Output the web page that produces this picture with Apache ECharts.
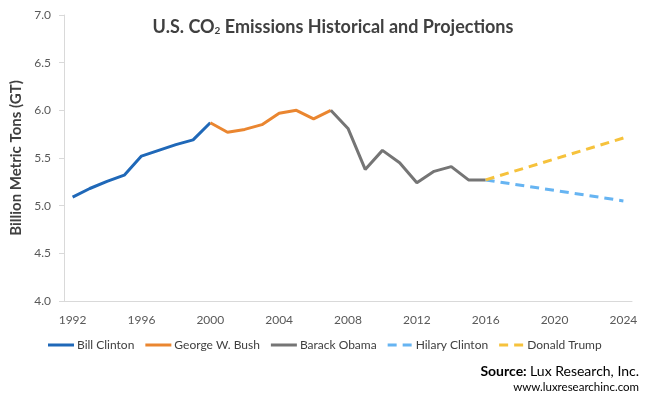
<!DOCTYPE html>
<html>
<head>
<meta charset="utf-8">
<script src="https://cdn.jsdelivr.net/npm/echarts@6/dist/echarts.min.js"></script>
<style>html,body{margin:0;padding:0;background:#fff}#c{width:648px;height:402px}</style>
</head>
<body>
<div id="c"></div>
<script>
var years = [];
for (var y = 1992; y <= 2024; y++) years.push(String(y));

var clintonStart = 1992, clintonValues = [5.09, 5.18, 5.255, 5.32, 5.52, 5.58, 5.64, 5.69, 5.87];
var bushStart = 2000, bushValues = [5.87, 5.77, 5.80, 5.85, 5.97, 6.00, 5.91, 6.00];
var obamaStart = 2007, obamaValues = [6.00, 5.81, 5.38, 5.58, 5.45, 5.24, 5.36, 5.41, 5.27, 5.27];
var hilaryPoints = [[2016, 5.27], [2024, 5.05]];
var trumpPoints = [[2016, 5.27], [2024, 5.71]];
var yTicks = [4.0, 4.5, 5.0, 5.5, 6.0, 6.5, 7.0];
var legendNames = ['Bill Clinton', 'George W. Bush', 'Barack Obama', 'Hilary Clinton', 'Donald Trump'];

function pad(start, vals) {
  var out = years.map(function () { return null; });
  vals.forEach(function (v, i) { out[start - 1992 + i] = v; });
  return out;
}
function padPts(pts) {
  var out = years.map(function () { return null; });
  pts.forEach(function (p) { out[p[0] - 1992] = p[1]; });
  return out;
}

var FONT = 'Lato';
var SOLID_ICON = 'path://M0,0h26v3h-26z';
var DASH_ICON = 'path://M0,0h9v3h-9zM15,0h9v3h-9z';
var chart = echarts.init(document.getElementById('c'), null, {renderer: 'canvas'});
function line(name, data, color, dashed) {
  return {
    name: name, type: 'line', data: data, symbol: 'none', connectNulls: true,
    lineStyle: {color: color, width: 3, type: dashed ? [9, 6] : 'solid', cap: 'butt'},
    itemStyle: {color: color}, z: dashed ? 3 : 2, silent: true
  };
}
chart.setOption({
  animation: false,
  textStyle: {fontFamily: FONT},
  title: {
    text: '{a|U.S. CO}{s|2}{a| Emissions Historical and Projections}',
    left: 328, top: 13, textAlign: 'center',
    textStyle: {
      rich: {
        a: {fontFamily: FONT, fontSize: 18, fontWeight: 'bold', color: '#404040'},
        s: {fontFamily: FONT, fontSize: 10, fontWeight: 'bold', color: '#404040', verticalAlign: 'bottom', padding: [8, 0, 0, 0]}
      }
    }
  },
  grid: {left: 64, right: 16, top: 15, bottom: 101, containLabel: false},
  legend: {
    left: 43, top: 334, width: 605, itemWidth: 26, itemHeight: 3, itemGap: 11,
    textStyle: {fontFamily: FONT, fontSize: 12, color: '#404040', padding: [0, 0, 0, -2]},
    data: legendNames.map(function (n, i) {
      return {name: n, icon: i < 3 ? SOLID_ICON : DASH_ICON};
    })
  },
  xAxis: {
    type: 'category', data: years, boundaryGap: true,
    axisLine: {lineStyle: {color: '#d9d9d9', width: 1}},
    axisTick: {show: false},
    axisLabel: {interval: 3, color: '#595959', fontSize: 12, fontFamily: FONT, margin: 13}
  },
  yAxis: {
    type: 'value', min: yTicks[0], max: yTicks[yTicks.length - 1], interval: 0.5,
    name: 'Billion Metric Tons (GT)', nameLocation: 'middle', nameGap: 35, nameRotate: 90,
    nameTextStyle: {fontFamily: FONT, fontSize: 15, fontWeight: 'bold', color: '#404040'},
    axisLine: {show: true, lineStyle: {color: '#d9d9d9'}},
    axisTick: {show: true, length: 5, lineStyle: {color: '#d9d9d9'}},
    splitLine: {show: false},
    axisLabel: {color: '#595959', fontSize: 12, fontFamily: FONT, margin: 13,
      formatter: function (v) { return v.toFixed(1); }}
  },
  series: [
    line('Bill Clinton', pad(clintonStart, clintonValues), '#1f68b8', false),
    line('George W. Bush', pad(bushStart, bushValues), '#ea8630', false),
    line('Barack Obama', pad(obamaStart, obamaValues), '#757575', false),
    line('Hilary Clinton', padPts(hilaryPoints), '#66b4f2', true),
    line('Donald Trump', padPts(trumpPoints), '#f6c23c', true)
  ],
  graphic: [
    {type: 'text', right: 9, top: 364, style: {
      text: '{b|Source:} {n|Lux Research, Inc.}',
      rich: {b: {fontFamily: FONT, fontSize: 14, fontWeight: 'bold', fill: '#000'},
             n: {fontFamily: FONT, fontSize: 14, fill: '#000'}}
    }},
    {type: 'text', right: 9, top: 381, style: {
      text: 'www.luxresearchinc.com', fontFamily: FONT, fontSize: 11.5, fill: '#000'
    }}
  ]
});
</script>
</body>
</html>
